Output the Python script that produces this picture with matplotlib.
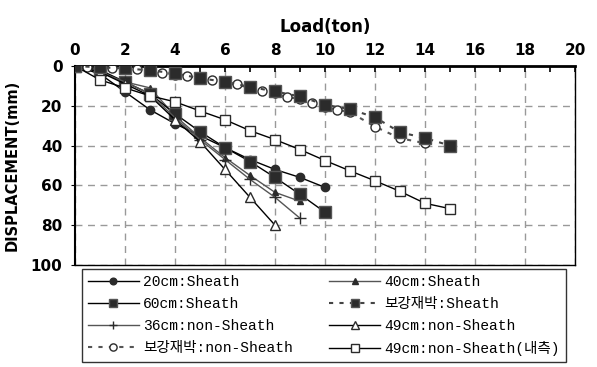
import matplotlib
matplotlib.use("Agg")
from matplotlib import pyplot as plt

# load (ton) and displacement (mm) for each test
x_20 = [0, 1, 2, 3, 4, 5, 6, 7, 8, 9, 10]
y_20 = [0, 4, 13, 22, 29, 35, 41, 47, 52, 56, 61]

x_40 = [0, 1, 2, 3, 4, 5, 6, 7, 8, 9]
y_40 = [0, 3, 8, 11, 25, 36, 46, 55, 63.5, 68]

x_60 = [0, 1, 2, 3, 4, 5, 6, 7, 8, 9, 10]
y_60 = [0, 2, 8, 14, 24, 33, 41, 48, 56, 64.5, 73.5]

x_rs = [0, 1, 2, 3, 4, 5, 6, 7, 8, 9, 10, 11, 12, 13, 14, 15]
y_rs = [0, 0.7, 1.2, 2.2, 3.7, 6.2, 7.9, 10.5, 12.8, 15.3, 19.5, 21.7, 25.8, 33.3, 36.2, 40]

x_36 = [0, 1, 2, 3, 4, 5, 6, 7, 8, 9]
y_36 = [0, 3, 8, 14, 26, 37, 47, 57, 66, 76.5]

x_49 = [0, 1, 2, 3, 4, 5, 6, 7, 8]
y_49 = [0, 3, 9, 15, 27, 38, 52, 66, 80]

x_rn = [0, 0.5, 1, 1.5, 2, 2.5, 3, 3.5, 4, 4.5, 5, 5.5, 6, 6.5, 7, 7.5, 8,
        8.5, 9, 9.5, 10, 10.5, 11, 12, 13, 14]
y_rn = [0, 0.7, 0.8, 0.8, 1.3, 1.6, 2.6, 3.4, 4.3, 5.0, 6.6, 7.0, 8.6, 9.3, 11.2, 12.8, 13.8,
        15.7, 16.5, 18.7, 20.5, 22.0, 23.2, 30.5, 36.3, 38.8]

x_49in = [0, 1, 2, 3, 4, 5, 6, 7, 8, 9, 10, 11, 12, 13, 14, 15]
y_49in = [0, 7, 11, 15, 18, 22.6, 27, 32.5, 37, 42, 47.5, 52.7, 57.7, 63, 69, 71.7]

dark = "#2b2b2b"

fig = plt.figure(figsize=(5.97, 3.67), dpi=100)
ax = fig.add_axes([0.1256, 0.278, 0.8375, 0.5422])

h_20, = ax.plot(x_20, y_20, color="black", lw=1, marker="o", ms=6, mfc=dark, mec=dark, zorder=4)
h_40, = ax.plot(x_40, y_40, color="#555555", lw=1, marker="^", ms=5, mfc=dark, mec=dark, zorder=4)
h_60, = ax.plot(x_60, y_60, color="black", lw=1, marker="s", ms=8, mfc=dark, mec="#555555", zorder=4)
h_36, = ax.plot(x_36, y_36, color="#555555", lw=1, marker="+", ms=8, mew=1, mec=dark, zorder=4)
h_49, = ax.plot(x_49, y_49, color="black", lw=1, marker="^", ms=7, mfc="white", mec=dark, zorder=4)
h_rn, = ax.plot(x_rn, y_rn, color="#555555", lw=1.5, ls=(0, (2, 3)), marker="o", ms=6.5,
                mfc="white", mec=dark, zorder=4)
h_rs, = ax.plot(x_rs, y_rs, color="#444444", lw=1.5, ls=(0, (2, 3)), marker="s", ms=8,
                mfc=dark, mec="#555555", zorder=5)
h_in, = ax.plot(x_49in, y_49in, color="black", lw=1, marker="s", ms=7, mfc="white", mec=dark, zorder=4)

ax.set_xlim(0, 20)
ax.set_ylim(100, 0)
ax.set_xticks(range(0, 21, 2))
ax.set_xticks(range(0, 21), minor=True)
ax.set_yticks(range(0, 101, 20))
ax.xaxis.tick_top()
ax.xaxis.set_label_position("top")
ax.tick_params(axis="x", which="both", direction="in", length=4, width=1.2, top=True, bottom=False,
               labelsize=11, pad=6)
ax.tick_params(axis="y", direction="out", length=3, labelsize=11, pad=6)
for lab in ax.get_xticklabels() + ax.get_yticklabels():
    lab.set_fontweight("bold")
    lab.set_family("DejaVu Sans")
ax.grid(True, which="major", ls=(0, (5, 4)), color="#999999", lw=1)
ax.set_axisbelow(True)
for s in ax.spines.values():
    s.set_linewidth(1)
ax.spines["top"].set_linewidth(2)
ax.spines["left"].set_linewidth(1.5)

ax.set_xlabel("Load(ton)", fontsize=12, fontweight="bold", labelpad=8)
ax.set_ylabel("DISPLACEMENT(mm)", fontsize=10.5, fontweight="bold", labelpad=8)

handles = [h_20, h_60, h_36, h_rn, h_40, h_rs, h_49, h_in]
labels = ["20cm:Sheath", "60cm:Sheath", "36cm:non-Sheath", "보강재박:non-Sheath",
          "40cm:Sheath", "보강재박:Sheath", "49cm:non-Sheath", "49cm:non-Sheath(내측)"]
leg = fig.legend(handles, labels, ncol=2, loc="lower left", numpoints=1, markerscale=0.8,
                 bbox_to_anchor=(82 / 597, 5 / 367, 484 / 597, 92 / 367), mode="expand",
                 frameon=True, fancybox=False, edgecolor="black", borderaxespad=0,
                 handlelength=3.5, handletextpad=0.3, labelspacing=0.55, columnspacing=1.0,
                 borderpad=0.4,
                 prop={"family": ["Liberation Mono", "Noto Sans CJK KR"], "size": 10.5})
leg.get_frame().set_linewidth(1)

fig.savefig("out.png", dpi=100)
